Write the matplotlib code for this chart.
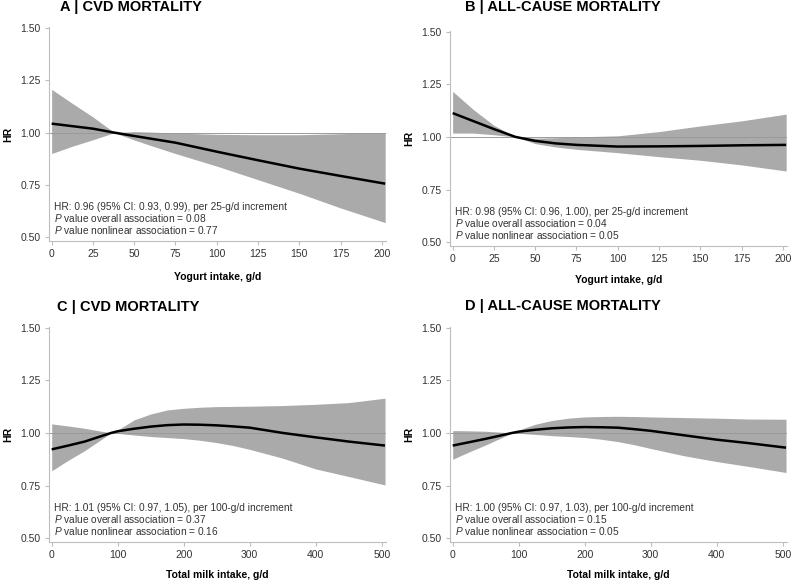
import matplotlib
matplotlib.use("Agg")
import matplotlib.pyplot as plt

plt.rcParams['font.family'] = ['Liberation Sans', 'DejaVu Sans']
plt.rcParams['mathtext.fontset'] = 'custom'
plt.rcParams['mathtext.rm'] = 'Liberation Sans'
plt.rcParams['mathtext.it'] = 'Liberation Sans:italic'

# ---- Data ----
yog_x = [0, 12.5, 25, 38, 50, 62.5, 75, 100, 125, 150, 175, 202]
a_hr = [1.043, 1.031, 1.019, 1.0, 0.984, 0.968, 0.952, 0.909, 0.868, 0.828, 0.793, 0.756]
a_lo = [0.90, 0.935, 0.966, 1.0, 0.965, 0.932, 0.90, 0.84, 0.775, 0.71, 0.64, 0.57]
a_hi = [1.207, 1.14, 1.075, 1.0, 1.005, 1.002, 0.998, 0.992, 0.99, 0.99, 0.995, 1.0]

b_hr = [1.113, 1.075, 1.037, 1.0, 0.981, 0.969, 0.962, 0.954, 0.955, 0.957, 0.960, 0.962]
b_lo = [1.018, 1.018, 1.01, 1.0, 0.968, 0.952, 0.941, 0.925, 0.906, 0.889, 0.867, 0.838]
b_hi = [1.216, 1.13, 1.055, 1.0, 0.994, 0.996, 1.0, 1.005, 1.025, 1.052, 1.076, 1.108]

milk_x = [0, 25, 50, 90, 100, 125, 150, 175, 200, 225, 250, 275, 300, 350, 400, 450, 505]
c_hr = [0.922, 0.940, 0.959, 1.0, 1.008, 1.02, 1.03, 1.037, 1.04, 1.039, 1.036, 1.031,
        1.025, 1.0, 0.979, 0.959, 0.94]
c_lo = [0.82, 0.87, 0.916, 1.0, 0.998, 0.99, 0.983, 0.978, 0.973, 0.965, 0.954, 0.94,
        0.922, 0.88, 0.829, 0.793, 0.753]
c_hi = [1.043, 1.033, 1.022, 1.0, 1.014, 1.062, 1.09, 1.109, 1.117, 1.122, 1.125, 1.126,
        1.127, 1.13, 1.136, 1.144, 1.165]

d_hr = [0.94, 0.956, 0.972, 1.0, 1.006, 1.015, 1.022, 1.026, 1.028, 1.027, 1.025, 1.018,
        1.01, 0.989, 0.968, 0.951, 0.93]
d_lo = [0.875, 0.91, 0.943, 1.0, 0.998, 0.993, 0.987, 0.983, 0.978, 0.970, 0.959, 0.944,
        0.926, 0.892, 0.864, 0.84, 0.812]
d_hi = [1.011, 1.010, 1.008, 1.0, 1.014, 1.041, 1.059, 1.07, 1.076, 1.078, 1.079, 1.078,
        1.076, 1.073, 1.07, 1.066, 1.065]

titles = ["A | CVD MORTALITY", "B | ALL-CAUSE MORTALITY",
          "C | CVD MORTALITY", "D | ALL-CAUSE MORTALITY"]
xlabels = ["Yogurt intake, g/d", "Yogurt intake, g/d",
           "Total milk intake, g/d", "Total milk intake, g/d"]
yticks = [0.50, 0.75, 1.00, 1.25, 1.50]
yog_ticks = [0, 25, 50, 75, 100, 125, 150, 175, 200]
milk_ticks = [0, 100, 200, 300, 400, 500]
notes = [
    ["HR: 0.96 (95% CI: 0.93, 0.99), per 25-g/d increment",
     r"$\it{P}$ value overall association = 0.08",
     r"$\it{P}$ value nonlinear association = 0.77"],
    ["HR: 0.98 (95% CI: 0.96, 1.00), per 25-g/d increment",
     r"$\it{P}$ value overall association = 0.04",
     r"$\it{P}$ value nonlinear association = 0.05"],
    ["HR: 1.01 (95% CI: 0.97, 1.05), per 100-g/d increment",
     r"$\it{P}$ value overall association = 0.37",
     r"$\it{P}$ value nonlinear association = 0.16"],
    ["HR: 1.00 (95% CI: 0.97, 1.03), per 100-g/d increment",
     r"$\it{P}$ value overall association = 0.15",
     r"$\it{P}$ value nonlinear association = 0.05"],
]

W, H = 793, 580
fig = plt.figure(figsize=(W / 100, H / 100), dpi=100)

def px_axes(left, right, top, bottom):
    return fig.add_axes([left / W, 1 - bottom / H, (right - left) / W, (bottom - top) / H])

axes = [
    px_axes(49, 386, 27, 241),
    px_axes(450, 787, 30.5, 246),
    px_axes(49, 386, 326.6, 542),
    px_axes(450, 787, 326.6, 542),
]
panels = [
    (yog_x, a_hr, a_lo, a_hi, yog_ticks, (-1.6, 202.5)),
    (yog_x, b_hr, b_lo, b_hi, yog_ticks, (-1.6, 202.5)),
    (milk_x, c_hr, c_lo, c_hi, milk_ticks, (-4.1, 506.5)),
    (milk_x, d_hr, d_lo, d_hi, milk_ticks, (-4.1, 506.5)),
]
title_pos = [(60, 7), (465, 7), (57, 307), (465, 306)]
xlabel_y = [-0.145, -0.135, -0.13, -0.13]

spine_col = '#bdbdbd'
for i, ax in enumerate(axes):
    x, hr, lo, hi, xt, xl = panels[i]
    ax.fill_between(x, lo, hi, color='#aaaaaa', lw=0, zorder=1)
    ax.axhline(1.0, color='#9a9a9a', lw=0.7, zorder=2)
    ax.plot(x, hr, color='black', lw=1.8, zorder=3, solid_capstyle='butt',
            solid_joinstyle='round')
    ax.set_xlim(*xl)
    ax.set_ylim(0.482, 1.505)
    ax.set_xticks(xt)
    ax.set_yticks(yticks)
    ax.set_yticklabels([f"{v:.2f}" for v in yticks])
    for s in ['top', 'right']:
        ax.spines[s].set_visible(False)
    for s in ['left', 'bottom']:
        ax.spines[s].set_color(spine_col)
        ax.spines[s].set_linewidth(0.8)
    ax.tick_params(axis='both', colors=spine_col, labelcolor='#333333',
                   labelsize=7.5, length=3, width=0.8, pad=3)
    ax.set_ylabel("HR", fontsize=7.5, fontweight='bold')
    ax.yaxis.set_label_coords(-0.105, 0.5)
    ax.set_xlabel(xlabels[i], fontsize=7.5, fontweight='bold')
    ax.xaxis.set_label_coords(0.5, xlabel_y[i])
    for k, line in enumerate(notes[i]):
        ax.text(0.015, 0.160 - k * 0.054, line, transform=ax.transAxes,
                fontsize=7.3, color='#333333', va='center', ha='left')
    tx, ty = title_pos[i]
    fig.text(tx / W, 1 - ty / H, titles[i], fontsize=10.5, fontweight='bold',
             ha='left', va='center', color='black')

fig.savefig("out.png", dpi=100)
